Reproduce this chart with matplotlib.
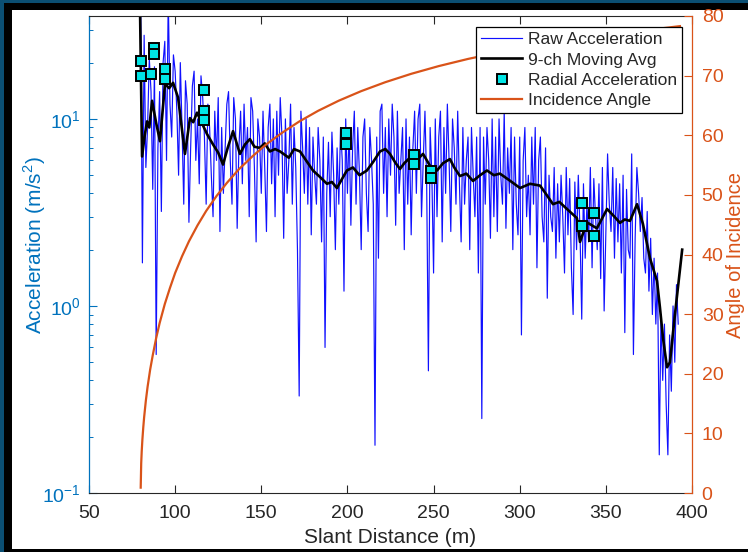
import numpy as np
import matplotlib
matplotlib.use("Agg")
import matplotlib.pyplot as plt
from matplotlib.patches import Rectangle
from matplotlib.ticker import LogLocator

plt.rcParams['font.family'] = ['Liberation Sans', 'DejaVu Sans']
plt.rcParams['mathtext.fontset'] = 'custom'
plt.rcParams['mathtext.rm'] = 'Liberation Sans'

# ---------------- data ----------------
raw_start = 80.0   # first channel slant distance (m), 1 m per channel
raw_acc = [
    # 80-99
    45, 1.7, 28, 5.5, 9, 21, 14, 4.2, 19, 0.55,
    7, 14, 3.2, 20, 26, 6, 45, 12, 8, 22,
    # 100-119
    18, 11, 5, 20, 9, 3.5, 16, 12, 2.8, 7,
    15, 18, 6, 10, 4.5, 17, 13, 8, 3.5, 12,
    # 120-139
    9, 5, 3, 11, 6, 13, 2.5, 9, 4, 7,
    12, 14, 6, 3.5, 13, 10, 2.6, 7, 11, 4.5,
    # 140-159
    12, 6, 9, 3, 13, 11, 5.5, 2.2, 10, 8,
    4, 11, 5.5, 2.5, 9, 12, 4.5, 10, 3, 11,
    # 160-179
    5, 13, 8, 2.3, 10, 4, 6, 12, 3.5, 9,
    5.5, 2, 0.33, 11, 7, 4, 10, 3.5, 9, 2.4,
    # 180-199
    8, 5, 3.5, 9, 6, 2.2, 8, 0.6, 4, 7.5,
    3, 8.5, 5, 2, 7, 3.5, 9, 6, 1.2, 10,
    # 200-219
    4, 9, 2.7, 7, 11, 3.5, 9, 5, 2, 8,
    10, 4, 2.5, 9, 6, 3.5, 0.18, 8, 1.8, 11,
    # 220-239
    12, 4, 9, 3, 10, 5, 12, 8, 2.7, 11,
    4, 6, 9, 2, 10, 3.5, 8, 2.4, 7, 11,
    # 240-259
    4, 10, 12, 3, 6, 11, 4.5, 0.45, 9, 5,
    1.5, 10, 3, 8, 11, 2.2, 9, 4, 12, 6,
    # 260-279
    2.5, 10, 7, 3.5, 11, 4.5, 2.2, 9, 3.5, 6,
    8, 2, 9, 5, 3, 8, 1.5, 9, 0.25, 8,
    # 280-299
    3.5, 9, 6, 2.3, 10, 3, 8, 2.5, 10, 5,
    3.5, 11, 2.6, 7, 4, 9, 2, 8, 3.5, 2.4,
    # 300-319
    8, 0.7, 6, 9, 3, 5, 2.4, 8, 3.5, 9,
    1.6, 6, 8, 3, 2.2, 7, 1.1, 5, 3, 2.5,
    # 320-339
    5.5, 1.8, 4.5, 2.2, 5, 3, 1.5, 5.5, 2.4, 4.8,
    1.6, 0.9, 4.6, 2, 5, 2.5, 0.85, 4.5, 1.8, 3.5,
    # 340-359
    2.2, 5.5, 1.6, 4.8, 3, 2, 4.5, 1.4, 5.5, 0.94,
    2.4, 6.5, 3.5, 2.5, 5.5, 1.8, 4.8, 2.2, 4.5, 1.5,
    # 360-379
    5, 0.72, 4.2, 2, 1.8, 6.5, 0.55, 2.3, 5.5, 4,
    2.5, 3.8, 1.8, 1.5, 3.2, 1.2, 2.3, 0.9, 1.8, 0.8,
    # 380-392
    1.5, 0.16, 0.9, 0.4, 0.8, 0.3, 0.16, 0.7, 0.35, 1.0,
    0.5, 1.3, 0.8,
]
raw_dist = raw_start + np.arange(len(raw_acc))

avg_dist = [79.6, 80.8, 82.2, 83.7, 85.0, 86.6, 89.0, 91.2, 94.1, 96.5,
            98.8, 101.7, 105.7, 108.6, 110.5, 112.7, 115.5, 118.5, 122.0, 125.0,
            127.8, 130.5, 133.6, 137.6, 140.5, 143.4, 146.0, 149.2, 152.0, 155.0,
            158.0, 160.9, 166.0, 169.0, 172.5, 176.0, 180.0, 184.0, 188.1, 191.0,
            193.9, 197.0, 199.7, 203.2, 207.0, 211.3, 215.0, 218.9, 222.0, 224.7,
            228.0, 230.5, 233.0, 236.3, 240.0, 243.9, 248.0, 252.0, 255.5, 259.5,
            262.0, 265.3, 269.0, 272.9, 277.0, 281.0, 285.0, 288.5, 294.0, 300.2,
            306.0, 311.8, 315.0, 319.3, 323.0, 327.4, 333.2, 335.0, 339.0, 344.8,
            347.5, 350.7, 355.0, 358.2, 361.0, 364.0, 368.1, 371.5, 375.6, 379.7,
            381.4, 383.2, 385.5, 387.2, 390.1, 394.3]
avg_acc = [40, 6.3, 8.0, 9.7, 9.0, 12.5, 9.5, 7.6, 15.4, 14.6,
           15.6, 13.0, 6.5, 10.1, 9.6, 10.8, 9.5, 8.3, 7.3, 6.6,
           5.7, 7.0, 8.6, 6.5, 7.3, 7.8, 7.1, 7.0, 7.4, 6.7,
           6.9, 6.7, 6.2, 6.9, 6.7, 6.0, 5.3, 4.9, 4.5, 4.6,
           4.27, 4.8, 5.3, 5.5, 5.0, 5.3, 5.9, 6.7, 6.9, 6.5,
           5.8, 5.4, 5.8, 6.2, 6.0, 6.5, 5.6, 5.3, 5.8, 6.1,
           5.5, 4.95, 5.1, 4.66, 5.0, 5.3, 5.0, 5.1, 4.7, 4.27,
           4.5, 4.4, 4.0, 3.5, 3.6, 3.3, 2.95, 2.2, 2.8, 2.6,
           2.9, 3.3, 3.0, 2.78, 2.9, 2.85, 3.5, 2.75, 1.8, 1.36,
           0.98, 0.67, 0.47, 0.5, 0.9, 2.0]

radial_dist = [80.2, 80.2, 86.0, 87.7, 87.7, 94.1, 94.1, 116.7, 116.7, 116.7,
               199.2, 199.2, 238.6, 238.6, 248.5, 248.5, 336.1, 336.1, 343.1, 343.1]
radial_acc = [20.4, 16.9, 17.4, 23.9, 22.3, 18.5, 16.3, 14.3, 11.0, 9.9,
              8.4, 7.35, 6.42, 5.75, 5.27, 4.84, 3.55, 2.68, 3.14, 2.37]

angle_dist = [80.01, 80.3, 80.6, 81.0, 81.5, 82.0, 83.0, 84.0, 85.5, 87.0,
              89.0, 91.0, 94.0, 97.0, 100.0, 104.0, 108.0, 113.0, 118.0, 124.0,
              130.0, 137.0, 145.0, 153.0, 162.0, 172.0, 183.0, 195.0, 208.0, 222.0,
              237.0, 253.0, 270.0, 288.0, 307.0, 327.0, 348.0, 370.0, 393.0]
angle_deg = [0.9, 5.0, 7.0, 9.0, 11.0, 12.7, 15.5, 17.8, 20.7, 23.1,
             26.0, 28.5, 31.7, 34.4, 36.9, 39.7, 42.2, 44.9, 47.3, 49.8,
             52.0, 54.3, 56.5, 58.5, 60.4, 62.3, 64.1, 65.8, 67.4, 68.9,
             70.3, 71.6, 72.8, 73.9, 74.9, 75.8, 76.7, 77.5, 78.3]

xticks = [50, 100, 150, 200, 250, 300, 350, 400]
yticks_right = [0, 10, 20, 30, 40, 50, 60, 70, 80]

# ---------------- styling ----------------
BLUE_AX = '#0072BD'
ORANGE = '#D95319'
TXT = '#262626'

fig = plt.figure(figsize=(7.48, 5.52), dpi=100, facecolor='white')
W, H = 748, 552
# slide frame
fig.patches.append(Rectangle((0, 1 - 10 / H), 1, 10 / H, transform=fig.transFigure,
                             facecolor='black', edgecolor='none', zorder=-5))
fig.patches.append(Rectangle((0, 1 - 3 / H), 1, 3 / H, transform=fig.transFigure,
                             facecolor='#0b4f73', edgecolor='none', zorder=-4))
fig.patches.append(Rectangle((0, 0), 12 / W, 1, transform=fig.transFigure,
                             facecolor='black', edgecolor='none', zorder=-5))
fig.patches.append(Rectangle((0, 0), 4 / W, 1, transform=fig.transFigure,
                             facecolor='#0b4f73', edgecolor='none', zorder=-4))
fig.patches.append(Rectangle((0, 0), 1, 3 / H, transform=fig.transFigure,
                             facecolor='black', edgecolor='none', zorder=-5))

ax = fig.add_axes([89 / W, 1 - 493 / H, (692 - 89) / W, (493 - 16) / H])
ax.set_facecolor('white')

l_raw, = ax.plot(raw_dist, raw_acc, color='#1010ff', lw=0.85, label='Raw Acceleration')
l_avg, = ax.plot(avg_dist, avg_acc, color='black', lw=1.9, label='9-ch Moving Avg')
l_rad, = ax.plot(radial_dist, radial_acc, ls='none', marker='s', ms=7.5,
                 mfc='#00e5e5', mec='black', mew=1.4, label='Radial Acceleration', zorder=5)

ax.set_yscale('log')
ax.set_xlim(50, 400)
ax.set_ylim(0.1, 35.5)
ax.set_xticks(xticks)
ax.yaxis.set_major_locator(LogLocator(base=10, numticks=10))
ax.yaxis.set_minor_locator(LogLocator(base=10, subs=np.arange(2, 10), numticks=20))

ax.tick_params(axis='x', which='both', direction='in', top=True, bottom=True,
               length=6, width=0.8, colors=TXT, labelsize=14, pad=9)
ax.tick_params(axis='y', which='major', direction='in', left=True, right=False,
               length=6, width=0.8, colors=BLUE_AX, labelsize=14, pad=6)
ax.tick_params(axis='y', which='minor', direction='in', left=True, right=False,
               length=3, width=0.7, colors=BLUE_AX)
for s in ['top', 'bottom']:
    ax.spines[s].set_color(TXT)
    ax.spines[s].set_linewidth(0.8)
ax.spines['left'].set_color(BLUE_AX)
ax.spines['left'].set_linewidth(0.9)
ax.spines['right'].set_visible(False)

ax.set_xlabel('Slant Distance (m)', fontsize=15, color=TXT)
ax.xaxis.set_label_coords(0.5, -0.074)
ax.set_ylabel('Acceleration (m/s$^2$)', fontsize=15, color=BLUE_AX)
ax.yaxis.set_label_coords(-0.068, 0.52)

ax2 = ax.twinx()
l_ang, = ax2.plot(angle_dist, angle_deg, color=ORANGE, lw=1.6, label='Incidence Angle')
ax2.set_ylim(0, 80)
ax2.set_yticks(yticks_right)
ax2.tick_params(axis='y', direction='in', length=6, width=0.8, colors=ORANGE,
                labelsize=14, pad=7)
ax2.spines['right'].set_color(ORANGE)
ax2.spines['right'].set_linewidth(0.9)
for s in ['left', 'top', 'bottom']:
    ax2.spines[s].set_visible(False)
ax2.set_ylabel('Angle of Incidence', fontsize=14.5, color=ORANGE, rotation=90)
ax2.yaxis.set_label_coords(1.057, 0.5)

leg = ax2.legend(handles=[l_raw, l_avg, l_rad, l_ang], loc='upper right',
                 bbox_to_anchor=(682 / W, 1 - 27 / H), bbox_transform=fig.transFigure,
                 borderaxespad=0, fontsize=12.5, frameon=True, fancybox=False,
                 edgecolor='black', framealpha=1, borderpad=0.3, labelspacing=0.29,
                 handlelength=2.4, handletextpad=0.3, numpoints=1)
leg.get_frame().set_linewidth(0.9)
for t in leg.get_texts():
    t.set_color(TXT)

fig.savefig('out.png', dpi=100, facecolor=fig.get_facecolor())
